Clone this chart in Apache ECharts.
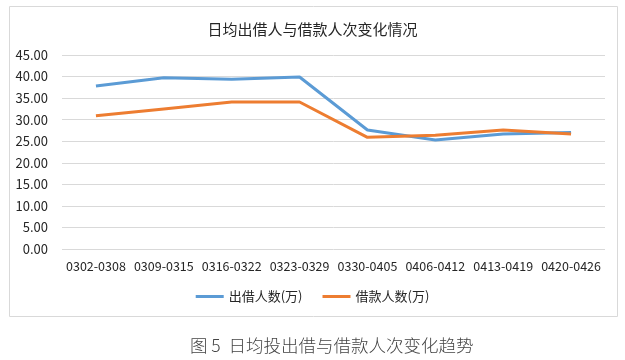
<!DOCTYPE html>
<html><head><meta charset="utf-8">
<script src="https://cdn.jsdelivr.net/npm/echarts@6/dist/echarts.min.js"></script>
<style>html,body{margin:0;padding:0;background:#fff}#c{width:625px;height:360px}</style>
</head><body><div id="c"></div>
<script>
const categories = ['0302-0308','0309-0315','0316-0322','0323-0329','0330-0405','0406-0412','0413-0419','0420-0426'];
const lenders = [37.8, 39.7, 39.4, 39.9, 27.6, 25.3, 26.7, 27.0];
const borrowers = [30.9, 32.5, 34.1, 34.1, 25.9, 26.4, 27.6, 26.7];
const seriesNames = ['出借人数(万)', '借款人数(万)'];
const chartTitle = '日均出借人与借款人次变化情况';
const caption = '图 5  日均投出借与借款人次变化趋势';

const chart = echarts.init(document.getElementById('c'));
const font = '"Noto Sans CJK SC","Noto Sans",sans-serif';
chart.setOption({
  animation: false,
  textStyle: {fontFamily: font},
  title: {text: chartTitle, left: 'center', top: 17, textStyle: {fontSize: 15, fontWeight: 'normal', color: '#262626', fontFamily: font}},
  graphic: [
    {type: 'rect', shape: {x: 9.5, y: 6.5, width: 608, height: 310}, style: {fill: 'none', stroke: '#d9d9d9', lineWidth: 1}, z: -1},
    {type: 'text', left: 190, top: 337, style: {text: caption, fill: '#444444', font: '300 17.5px "Noto Sans CJK SC", sans-serif'}}
  ],
  legend: {
    data: seriesNames, top: 285, left: 'center', itemWidth: 28, itemHeight: 3, itemGap: 20,
    icon: 'rect', textStyle: {fontSize: 13, color: '#262626'}
  },
  grid: {left: 62, right: 20, top: 55, height: 194},
  xAxis: {
    type: 'category', data: categories, boundaryGap: true,
    axisLine: {show: false}, axisTick: {show: false},
    axisLabel: {fontSize: 12.5, color: '#262626', margin: 11, interval: 0}
  },
  yAxis: {
    type: 'value', min: 0, max: 45, interval: 5,
    axisLabel: {formatter: v => v.toFixed(2), fontSize: 13, color: '#262626', margin: 14},
    splitLine: {lineStyle: {color: '#d9d9d9'}},
    axisLine: {show: false}, axisTick: {show: false}
  },
  series: [
    {name: seriesNames[0], type: 'line', data: lenders, symbol: 'none', lineStyle: {width: 3, color: '#5B9BD5'}, itemStyle: {color: '#5B9BD5'}},
    {name: seriesNames[1], type: 'line', data: borrowers, symbol: 'none', lineStyle: {width: 3, color: '#ED7D31'}, itemStyle: {color: '#ED7D31'}}
  ]
});
</script></body></html>
